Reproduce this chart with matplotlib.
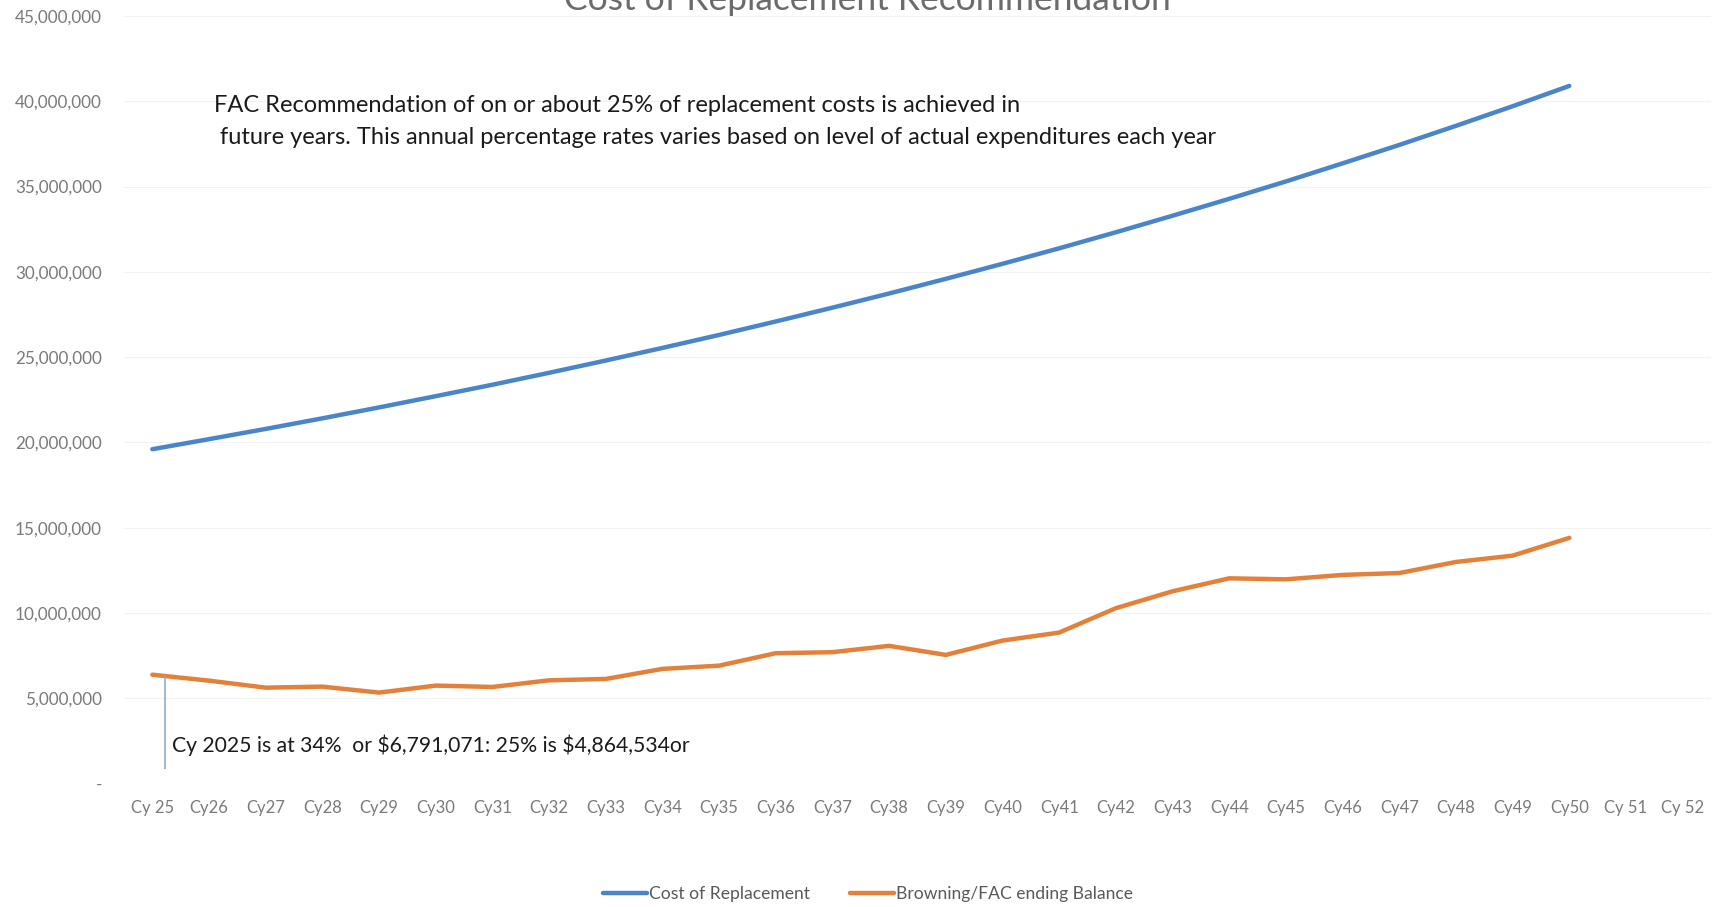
import matplotlib
matplotlib.use("Agg")
import matplotlib.pyplot as plt
from matplotlib.ticker import FuncFormatter

plt.rcParams['font.family'] = ['Lato', 'DejaVu Sans']

# годы (категории оси X)
years = ['Cy 25', 'Cy26', 'Cy27', 'Cy28', 'Cy29', 'Cy30', 'Cy31', 'Cy32', 'Cy33', 'Cy34',
         'Cy35', 'Cy36', 'Cy37', 'Cy38', 'Cy39', 'Cy40', 'Cy41', 'Cy42', 'Cy43', 'Cy44',
         'Cy45', 'Cy46', 'Cy47', 'Cy48', 'Cy49', 'Cy50', 'Cy 51', 'Cy 52']

# значения (млн)
cost_replacement = [19.60, 20.19, 20.79, 21.41, 22.05, 22.71, 23.38, 24.08, 24.80, 25.54,
                    26.30, 27.09, 27.90, 28.73, 29.59, 30.47, 31.38, 32.32, 33.29, 34.28,
                    35.30, 36.36, 37.44, 38.56, 39.71, 40.90]
ending_balance = [6.38, 6.03, 5.62, 5.68, 5.33, 5.74, 5.66, 6.05, 6.13, 6.72,
                  6.91, 7.64, 7.70, 8.07, 7.54, 8.38, 8.85, 10.28, 11.27, 12.03,
                  11.97, 12.23, 12.34, 12.99, 13.36, 14.40]

cost_replacement = [v * 1e6 for v in cost_replacement]
ending_balance = [v * 1e6 for v in ending_balance]

W, H = 1718, 907
fig = plt.figure(figsize=(W / 100, H / 100), dpi=100)
ax = fig.add_axes([124 / W, 1 - 783.5 / H, (1711 - 124) / W, (783.5 - 16) / H])

x = list(range(len(years)))
ax.plot(x[:len(cost_replacement)], cost_replacement, color='#4a85c9', lw=3.2,
        solid_capstyle='round', label='Cost of Replacement')
ax.plot(x[:len(ending_balance)], ending_balance, color='#e3813a', lw=3.2,
        solid_capstyle='round', label='Browning/FAC ending Balance')

ax.set_xlim(-0.5, len(years) - 0.5)
ax.set_ylim(0, 45e6)
ax.set_xticks(x)
ax.set_xticklabels(years)
ax.set_yticks([i * 5e6 for i in range(10)])
ax.yaxis.set_major_formatter(FuncFormatter(lambda v, p: '-' if v == 0 else f'{v:,.0f}'))

ax.tick_params(axis='y', length=0, pad=16, labelsize=12.3, labelcolor='#7a7a7a')
ax.tick_params(axis='x', length=0, pad=12, labelsize=12, labelcolor='#7a7a7a')
for s in ax.spines.values():
    s.set_visible(False)
ax.grid(axis='y', color='#f2f2f2', lw=0.8)
ax.set_axisbelow(True)

# заголовок обрезан сверху, как на скане
fig.text(867 / W, 1 - 10 / H, 'Cost of Replacement Recommendation', ha='center', va='baseline',
         fontsize=25.5, color='#6b6b6b')

fig.text(214 / W, 1 - 106 / H,
         'FAC Recommendation of on or about 25% of replacement costs is achieved in',
         ha='left', va='center', fontsize=17, color='#1a1a1a')
fig.text(214 / W, 1 - 137 / H,
         ' future years. This annual percentage rates varies based on level of actual expenditures each year',
         ha='left', va='center', fontsize=17, color='#1a1a1a')

fig.text(172 / W, 1 - 745 / H, r'Cy 2025 is at 34%  or \$6,791,071: 25% is \$4,864,534or',
         ha='left', va='center', fontsize=15.2, color='#1a1a1a')
# выносная линия
ax.vlines(0.23, 0.85e6, ending_balance[0] - 0.05e6, color='#8fa9d6', lw=1.2)

leg = fig.legend(loc='center', bbox_to_anchor=(868 / W, 1 - 894 / H), ncol=2, frameon=False,
                 fontsize=12.6, handlelength=2.5, handletextpad=0.1, columnspacing=2.3)
for t in leg.get_texts():
    t.set_color('#595959')

fig.savefig('out.png', dpi=100)
